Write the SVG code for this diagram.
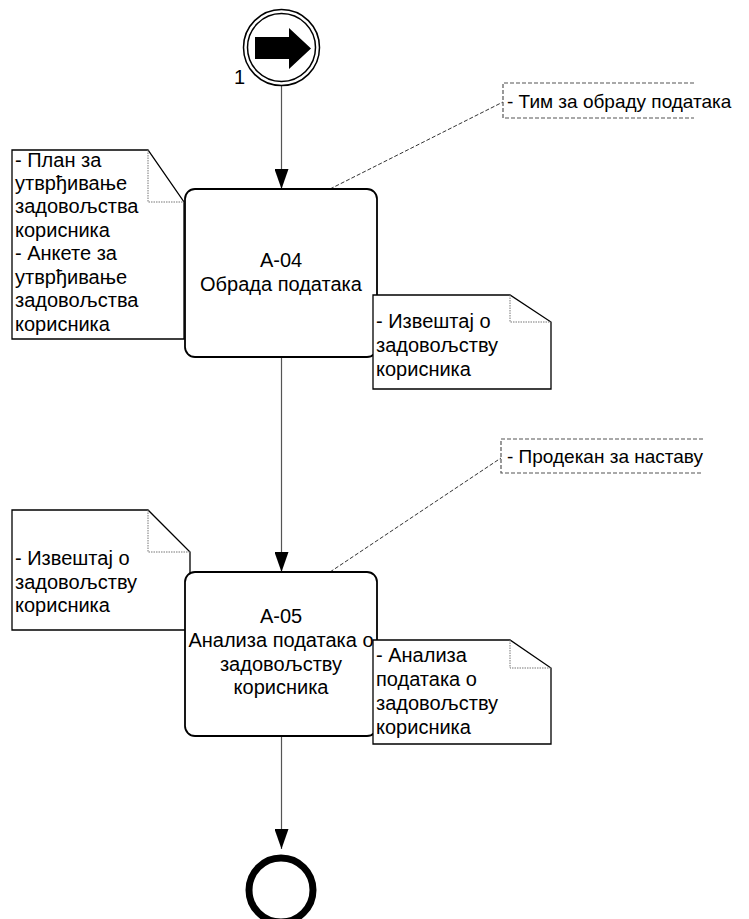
<svg xmlns="http://www.w3.org/2000/svg" width="749" height="919" viewBox="0 0 749 919">
<defs>
<style>
text{font-family:"Liberation Sans",Arial,sans-serif;font-size:20px;fill:#000}
.ann{font-size:19px}
.task{fill:#fff;stroke:#000;stroke-width:1.8}
.note{fill:#fff;stroke:#000;stroke-width:1.3}
.fold{fill:none;stroke:#777;stroke-width:1;stroke-dasharray:1.5 1}
.flow{fill:none;stroke:#555;stroke-width:1.2}
.assoc{fill:none;stroke:#333;stroke-width:1;stroke-dasharray:4 2}
.bracket{fill:none;stroke:#555;stroke-width:1.2;stroke-dasharray:4 2}
.c{text-anchor:middle}
</style>
<marker id="arr" markerWidth="20" markerHeight="14" refX="20" refY="7" orient="auto" markerUnits="userSpaceOnUse">
<path d="M0,0 L20,7 L0,14 Z" fill="#000"/>
</marker>
</defs>

<g id="connectors">
<line class="flow" x1="281.5" y1="86" x2="281.5" y2="189" marker-end="url(#arr)"/>
<line class="flow" x1="281.5" y1="358" x2="281.5" y2="572" marker-end="url(#arr)"/>
<line class="flow" x1="281.5" y1="737" x2="281.5" y2="849" marker-end="url(#arr)"/>
<line class="assoc" x1="330" y1="189" x2="503" y2="102"/>
<line class="assoc" x1="330" y1="572" x2="501" y2="458"/>
</g>

<g id="start">
<circle cx="281.5" cy="47.5" r="38" fill="#fff" stroke="#000" stroke-width="1.5"/>
<circle cx="281.5" cy="47.5" r="34" fill="none" stroke="#000" stroke-width="1.5"/>
<path d="M255,37 L289,37 L289,28 L311,48.5 L289,69 L289,59 L255,59 Z" fill="#000"/>
<text x="234" y="84">1</text>
</g>

<g id="note1">
<path class="note" d="M12,150 L148,150 L184,202 L184,339 L12,339 Z"/>
<path class="fold" d="M148,150 L148,202 L184,202"/>
<text x="15" y="167">- План за</text>
<text x="15" y="190">утврђивање</text>
<text x="15" y="213">задовољства</text>
<text x="15" y="237">корисника</text>
<text x="15" y="260">- Анкете за</text>
<text x="15" y="284">утврђивање</text>
<text x="15" y="307">задовољства</text>
<text x="15" y="331">корисника</text>
</g>

<g id="task1">
<rect class="task" x="185" y="189" width="192" height="168" rx="10" ry="10"/>
<text class="c" x="281" y="267">A-04</text>
<text class="c" x="281" y="291">Обрада података</text>
</g>

<g id="note2">
<path class="note" d="M373,295 L510,295 L551,322 L551,389 L373,389 Z"/>
<path class="fold" d="M510,295 L510,322 L551,322"/>
<text x="376" y="328">- Извештај о</text>
<text x="376" y="352">задовољству</text>
<text x="376" y="376">корисника</text>
</g>

<g id="lane1">
<path class="bracket" d="M694,83 L503,83 L503,118 L694,118"/>
<text class="ann" x="507" y="108">- Тим за обраду података</text>
</g>

<g id="note3">
<path class="note" d="M12,510 L148,510 L190,552 L190,630 L12,630 Z"/>
<path class="fold" d="M148,510 L148,552 L190,552"/>
<text x="15" y="565">- Извештај о</text>
<text x="15" y="589">задовољству</text>
<text x="15" y="612">корисника</text>
</g>

<g id="task2">
<rect class="task" x="185" y="572" width="192" height="164" rx="10" ry="10"/>
<text class="c" x="281" y="623">A-05</text>
<text class="c" x="281" y="647">Анализа података о</text>
<text class="c" x="281" y="671">задовољству</text>
<text class="c" x="281" y="694">корисника</text>
</g>

<g id="note4">
<path class="note" d="M373,640 L510,640 L551,668 L551,744 L373,744 Z"/>
<path class="fold" d="M510,640 L510,668 L551,668"/>
<text x="376" y="662">- Анализа</text>
<text x="376" y="686">података о</text>
<text x="376" y="710">задовољству</text>
<text x="376" y="734">корисника</text>
</g>

<g id="lane2">
<path class="bracket" d="M703,439 L501,439 L501,473 L703,473"/>
<text class="ann" x="507" y="463">- Продекан за наставу</text>
</g>

<g id="end">
<circle cx="281" cy="890" r="32" fill="#fff" stroke="#000" stroke-width="7"/>
</g>
</svg>
